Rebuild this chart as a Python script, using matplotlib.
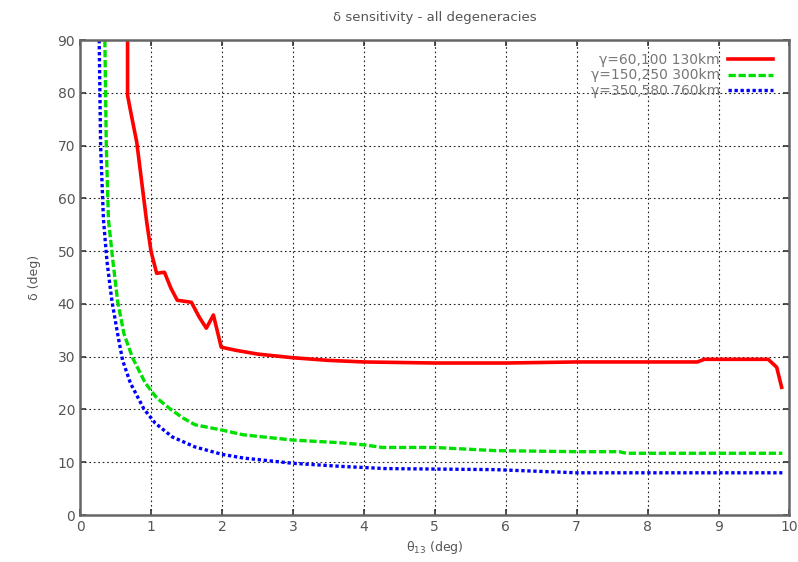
import matplotlib
matplotlib.use("Agg")
import matplotlib.pyplot as plt

# delta sensitivity curves vs theta13, one per baseline set
red_x = [0.67, 0.67, 0.72, 0.80, 0.87, 0.94, 1.00, 1.08, 1.19, 1.28, 1.37, 1.57, 1.68,
         1.78, 1.88, 1.99, 2.2, 2.5, 3.0, 3.5, 4.0, 5.0, 6.0, 7.0, 8.0, 8.7, 8.8,
         9.7, 9.82, 9.89]
red_y = [90, 79.5, 76, 70.6, 63, 55.5, 50, 45.8, 46, 43, 40.7, 40.3, 37.5,
         35.4, 37.9, 31.8, 31.2, 30.5, 29.8, 29.3, 29.0, 28.8, 28.8, 29.0, 29.0, 29.0, 29.5,
         29.5, 28.0, 24.2]

green_x = [0.35, 0.37, 0.40, 0.46, 0.53, 0.62, 0.74, 0.92, 1.08, 1.27, 1.45, 1.62, 2.0,
           2.3, 3.0, 3.66, 4.0, 4.26, 5.0, 5.85, 7.0, 7.6, 7.7, 9.9]
green_y = [90, 70, 56, 48.5, 40.5, 34.3, 29.8, 25.0, 22.2, 20.1, 18.4, 17.1, 16.1,
           15.2, 14.2, 13.7, 13.3, 12.8, 12.8, 12.2, 12.0, 12.0, 11.7, 11.7]

blue_x = [0.27, 0.29, 0.33, 0.38, 0.45, 0.53, 0.60, 0.71, 0.90, 1.06, 1.30, 1.62, 2.0,
          2.3, 3.0, 3.7, 4.3, 5.85, 7.0, 9.9]
blue_y = [90, 70, 56, 48, 40.5, 34.3, 29.3, 25.0, 20.1, 17.4, 14.8, 12.9, 11.5,
          10.8, 9.8, 9.2, 8.8, 8.6, 8.0, 8.0]

labels = ["γ=60,100 130km", "γ=150,250 300km", "γ=350,580 760km"]

fig = plt.figure(figsize=(7.98, 5.62), dpi=100)
ax = fig.add_axes([0.1003, 0.0836, 0.8890, 0.8452])

ax.plot(red_x, red_y, color="#ff0000", lw=2.6, ls="-", label=labels[0])
ax.plot(green_x, green_y, color="#00e000", lw=2.4, ls=(0, (2.2, 0.8)), label=labels[1])
ax.plot(blue_x, blue_y, color="#0000ff", lw=2.4, ls=(0, (1, 0.8)), label=labels[2])

ax.set_xlim(0, 10)
ax.set_ylim(0, 90)
ax.set_xticks(range(0, 11))
ax.set_yticks(range(0, 91, 10))
ax.grid(True, color="#222222", ls=(0, (1.5, 2.5)), lw=0.8)

grey = "#555555"
for s in ax.spines.values():
    s.set_color("#666666")
    s.set_linewidth(1.8)
ax.tick_params(direction="in", top=True, right=True, length=4, width=1.2,
               color="#333333", labelcolor=grey, labelsize=10)

ax.set_title("δ sensitivity - all degeneracies", color=grey, fontsize=9.5, pad=14)
ax.set_xlabel("θ$_{13}$ (deg)", color=grey, fontsize=9)
ax.set_ylabel("δ (deg)", color=grey, fontsize=9, labelpad=12)

leg = ax.legend(loc="upper right", bbox_to_anchor=(0.988, 0.99), frameon=False,
                markerfirst=False, fontsize=10, handlelength=3.2, handletextpad=0.6,
                labelspacing=0.1, borderaxespad=0.2)
for t in leg.get_texts():
    t.set_color("#777777")

fig.savefig("out.png", dpi=100)
